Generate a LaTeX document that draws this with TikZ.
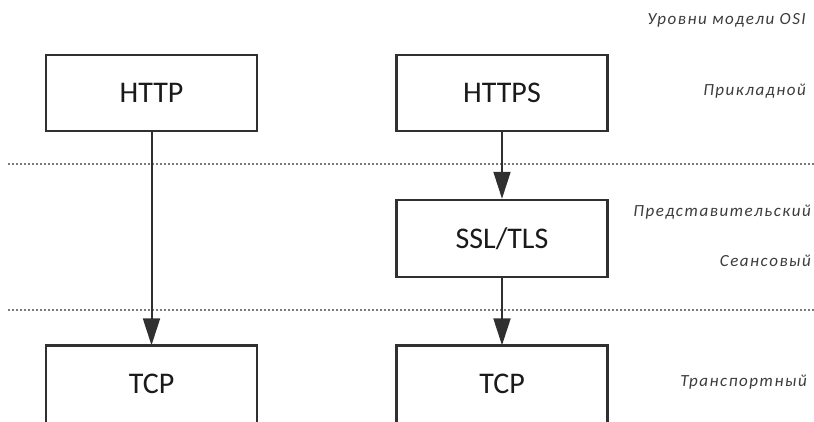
\documentclass[tikz,border=0pt]{standalone}
\usepackage{fontspec}
\setmainfont{Carlito}
\newfontfamily\labelfont[LetterSpace=9]{Carlito}
\usetikzlibrary{arrows.meta}
\definecolor{boxline}{HTML}{303030}
\definecolor{boxtext}{HTML}{1A1A1A}
\definecolor{labeltext}{HTML}{3C3C3C}
\definecolor{dotline}{HTML}{7A7A7A}
\tikzset{
  protobox/.style={draw=boxline, line width=2.5pt, fill=white, minimum width=211pt, minimum height=76pt, inner sep=0pt, text=boxtext, font=\fontsize{30}{34}\selectfont},
  openbox/.style={minimum width=211pt, minimum height=76pt, inner sep=0pt, text=boxtext, font=\fontsize{30}{34}\selectfont},
  layerlabel/.style={anchor=east, inner sep=0pt, text=labeltext, font=\labelfont\itshape\fontsize{17}{20}\selectfont},
  flow/.style={draw=boxline, line width=2pt, -{Triangle[length=27pt,width=17pt]}},
  layersep/.style={draw=dotline, line width=2pt, dash pattern=on 2pt off 2pt}
}
\begin{document}
\begin{tikzpicture}[x=1pt,y=-1pt]
\useasboundingbox (0,0) rectangle (814,421);
\clip (0,0) rectangle (814,421);
\fill[white] (0,0) rectangle (814,421);
% separators
\coordinate (s1l) at (8,163.5);
\coordinate (s1r) at (814,163.5);
\coordinate (s2l) at (8,310);
\coordinate (s2r) at (814,310);
\draw[layersep] (s1l) -- (s1r);
\draw[layersep] (s2l) -- (s2r);
% boxes
\node[protobox] (http) at (151.5,93) {HTTP};
\node[protobox] (https) at (502,93) {HTTPS};
\node[protobox, minimum height=77pt] (ssl) at (502,238.5) {SSL/TLS};
\node[openbox] (tcp1) at (151.5,383.5) {TCP};
\node[openbox] (tcp2) at (502,383.5) {TCP};
\draw[boxline, line width=2.5pt] (tcp1.south west) |- (tcp1.north east) -- (tcp1.south east);
\draw[boxline, line width=2.5pt] (tcp2.south west) |- (tcp2.north east) -- (tcp2.south east);
% arrows
\draw[flow] (http) -- (tcp1);
\draw[flow] (https) -- (ssl);
\draw[flow] (ssl) -- (tcp2);
% layer labels
\node[layerlabel] (l0) at (806,20) {Уровни модели OSI};
\node[layerlabel] (l1) at (806,91) {Прикладной};
\node[layerlabel] (l2) at (811,212) {Представительский};
\node[layerlabel] (l3) at (811,261) {Сеансовый};
\node[layerlabel] (l4) at (807,382) {Транспортный};
\end{tikzpicture}
\end{document}
